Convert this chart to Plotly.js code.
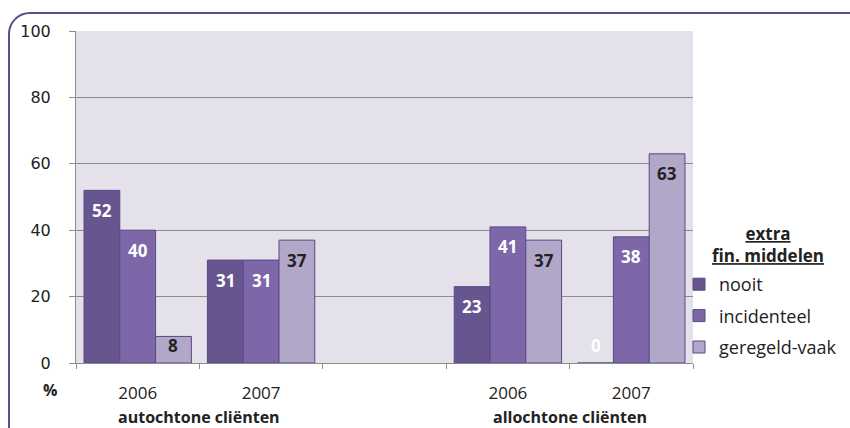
<!DOCTYPE html>
<html><head><meta charset="utf-8">
<script src="https://cdn.plot.ly/plotly-3.0.1.min.js"></script>
<style>
html,body{margin:0;padding:0;width:850px;height:428px;overflow:hidden;background:#fff;}
#frame{position:absolute;left:8px;top:12px;width:900px;height:500px;border:2.5px solid #5f4b8b;border-radius:22px;box-sizing:border-box;}
#chart{position:absolute;left:0;top:0;width:850px;height:428px;}
</style></head>
<body>
<div id="frame"></div>
<div id="chart"></div>
<script>
const positions = [0, 1, 2, 3, 4];
const yearLabels = ["2006", "2007", "", "2006", "2007"];
const groupLabels = ["autochtone cliënten", "allochtone cliënten"];
const groupCenters = [0.5, 3.5];
const seriesNames = ["nooit", "incidenteel", "geregeld-vaak"];
const nooit = [52, 31, null, 23, 0];
const incidenteel = [40, 31, null, 41, 38];
const geregeld = [8, 37, null, 37, 63];
const seriesValues = [nooit, incidenteel, geregeld];
const colors = ["#67558f", "#7d67a9", "#b1a8c9"];
const labelColors = ["#ffffff", "#ffffff", "#222222"];
const yTicks = [0, 20, 40, 60, 80, 100];

const font = "'Open Sans', Lato, sans-serif";
const bargap = 0.13;
const barW = (1 - bargap) / 3;

// plot area pixel box
const L = 76, R = 693, T = 31, B = 363;
const px = x => (x - L) / (R - L);
const py = y => (B - y) / (B - T);

const traces = seriesValues.map((vals, i) => ({
  type: "bar",
  name: seriesNames[i],
  x: positions,
  y: vals,
  legendgroup: "g" + i,
  marker: {color: colors[i], line: {color: "#5a4884", width: 1}},
  hoverinfo: "skip"
}));

const annotations = [];
seriesValues.forEach((vals, i) => {
  vals.forEach((v, j) => {
    if (v === null) return;
    annotations.push({
      x: positions[j] + (i - 1) * barW, y: Math.max(v - 6, 5.4),
      xref: "x", yref: "y", text: "<b>" + v + "</b>", showarrow: false,
      font: {family: font, size: 17, color: labelColors[i]},
      xanchor: "center", yanchor: "middle"
    });
  });
});
groupLabels.forEach((g, k) => {
  annotations.push({
    x: groupCenters[k], y: py(417), xref: "x", yref: "paper",
    text: "<b>" + g + "</b>", showarrow: false,
    font: {family: font, size: 16, color: "#222"}, xanchor: "center", yanchor: "middle"
  });
});
annotations.push({
  x: px(50), y: py(390), xref: "paper", yref: "paper", text: "<b>%</b>",
  showarrow: false, font: {family: font, size: 16, color: "#222"}, xanchor: "center", yanchor: "middle"
});
annotations.push({
  x: px(768), y: py(244), xref: "paper", yref: "paper",
  text: "<b>extra</b><br><b>fin. middelen</b>", showarrow: false,
  font: {family: font, size: 17, color: "#222", lineposition: "under"},
  xanchor: "center", yanchor: "middle"
});

const layout = {
  width: 850, height: 428,
  margin: {l: L, r: 850 - R, t: T, b: 428 - B, autoexpand: false},
  paper_bgcolor: "rgba(0,0,0,0)",
  plot_bgcolor: "#e4e1ea",
  barmode: "group",
  bargap: bargap,
  bargroupgap: 0,
  showlegend: true,
  legend: {
    x: px(679), y: py(266), xanchor: "left", yanchor: "top",
    font: {family: font, size: 18, color: "#222"},
    tracegroupgap: 5, traceorder: "grouped", bgcolor: "rgba(0,0,0,0)", itemwidth: 30
  },
  xaxis: {
    range: [-0.5, 4.5], tickmode: "array", tickvals: positions, ticktext: yearLabels,
    ticks: "", showgrid: false, zeroline: false, ticklabelstandoff: 15,
    showline: true, linecolor: "#8c8c8c", linewidth: 1,
    tickfont: {family: font, size: 17, color: "#222"},
    minor: {tick0: -0.5, dtick: 1, ticks: "outside", ticklen: 5, tickcolor: "#8c8c8c", showgrid: false}
  },
  yaxis: {
    range: [0, 100], tickmode: "array", tickvals: yTicks,
    ticks: "outside", ticklen: 6, tickcolor: "#8c8c8c", ticklabelstandoff: 15,
    showgrid: true, gridcolor: "#8c8c8c", gridwidth: 1, zeroline: false,
    showline: true, linecolor: "#8c8c8c", linewidth: 1,
    tickfont: {family: "'DejaVu Sans', sans-serif", size: 16, color: "#222"}
  },
  annotations: annotations
};

Plotly.newPlot("chart", traces, layout, {displayModeBar: false, staticPlot: true});
</script>
</body></html>
